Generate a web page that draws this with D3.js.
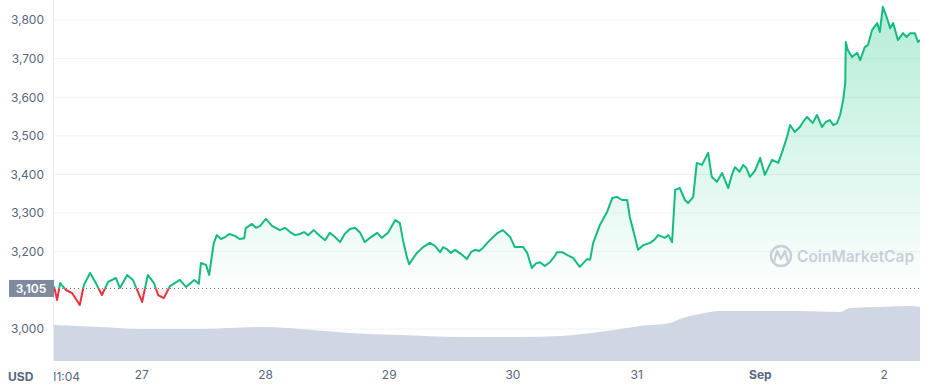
<!DOCTYPE html>
<html>
<head>
<meta charset="utf-8">
<script src="https://cdn.jsdelivr.net/npm/d3@7"></script>
<style>
  body { margin: 0; background: #fff; }
  svg { font-family: Inter, "Noto Sans", sans-serif; display: block; }
</style>
</head>
<body>
<svg id="chart"></svg>
<script>
// ETH / USD, 7 days, start Aug 26 07:04
const start = new Date(2021, 7, 26, 7, 4)
const basePrice = 3105

// [hours from start, price]
const pricePoints = [
  [0, 3111], [0.6, 3075], [1.2, 3119], [2.3, 3101], [3.5, 3093], [5.0, 3062], [5.8, 3114],
  [7.0, 3145], [8.0, 3122], [9.3, 3088], [10.5, 3122], [12.0, 3132], [12.8, 3106], [14.2, 3140],
  [15.3, 3127], [17.1, 3070], [18.2, 3140], [19.4, 3119], [20.2, 3088], [21.3, 3080], [22.5, 3111],
  [24.4, 3127], [25.6, 3109], [27.2, 3127], [28.1, 3117], [28.5, 3171], [29.5, 3166], [30.1, 3140],
  [31.0, 3223], [31.6, 3243], [32.4, 3233], [33.2, 3238], [34.0, 3246], [35.1, 3241], [36.0, 3233],
  [36.9, 3235], [37.2, 3261], [38.4, 3272], [39.2, 3262], [40.0, 3267], [41.1, 3285], [42.3, 3267],
  [43.8, 3256], [44.8, 3262], [45.8, 3251], [46.8, 3243], [47.7, 3246], [48.5, 3251], [49.3, 3243],
  [50.4, 3256], [51.6, 3241], [52.6, 3230], [53.5, 3249], [54.5, 3238], [55.5, 3225], [56.4, 3246],
  [57.4, 3259], [58.4, 3262], [59.4, 3249], [60.3, 3225], [61.5, 3238], [62.7, 3249], [63.6, 3236],
  [64.8, 3249], [66.2, 3282], [67.1, 3274], [67.7, 3230], [68.5, 3184], [68.9, 3168], [70.4, 3197],
  [71.6, 3212], [72.9, 3223], [73.9, 3215], [74.9, 3199], [75.5, 3212], [76.2, 3207], [77.0, 3197],
  [77.8, 3205], [79.0, 3194], [80.1, 3181], [80.9, 3199], [81.7, 3205], [82.5, 3202], [83.2, 3210],
  [84.2, 3225], [85.2, 3238], [86.1, 3249], [87.1, 3256], [88.5, 3238], [89.4, 3212], [91.0, 3212],
  [91.8, 3197], [92.7, 3158], [93.5, 3170], [94.3, 3173], [95.2, 3163], [96.2, 3173], [97.0, 3186],
  [97.6, 3199], [98.6, 3199], [99.5, 3192], [100.7, 3184], [102.0, 3161], [103.4, 3181], [104.0, 3179],
  [104.6, 3223], [105.9, 3269], [107.3, 3303], [108.3, 3339], [109.2, 3342], [110.2, 3334], [111.2, 3334],
  [111.7, 3290], [112.7, 3238], [113.3, 3205], [114.3, 3217], [115.6, 3223], [116.4, 3230], [117.2, 3243],
  [118.5, 3236], [119.2, 3243], [119.9, 3225], [120.5, 3360], [121.4, 3365], [122.4, 3334], [123.0, 3326],
  [124.0, 3342], [124.7, 3430], [125.7, 3425], [126.9, 3456], [127.6, 3394], [128.6, 3381], [129.6, 3404],
  [130.8, 3365], [131.5, 3399], [132.1, 3419], [133.0, 3407], [133.7, 3425], [134.3, 3417], [135.0, 3394],
  [136.0, 3410], [137.0, 3443], [137.9, 3399], [139.3, 3438], [140.5, 3430], [141.2, 3456], [142.2, 3497],
  [142.8, 3528], [143.7, 3510], [144.7, 3523], [145.4, 3538], [146.1, 3549], [147.2, 3533], [148.0, 3554],
  [149.0, 3523], [149.7, 3536], [150.5, 3541], [151.2, 3528], [151.9, 3533], [152.5, 3554], [153.1, 3593],
  [153.5, 3637], [153.6, 3743], [154.0, 3722], [154.8, 3704], [155.8, 3715], [156.4, 3696], [157.3, 3730],
  [157.9, 3735], [158.7, 3774], [159.7, 3792], [160.2, 3769], [160.8, 3834], [161.6, 3805], [162.2, 3779],
  [162.8, 3792], [163.7, 3748], [164.7, 3766], [165.4, 3756], [166.1, 3766], [167.0, 3766], [167.6, 3743],
  [168, 3748]
]

// [hours from start, volume in billions USD]
const volumePoints = [
  [0, 18], [8.9, 17], [16.7, 16], [28.3, 16], [41.1, 17], [47.7, 16], [57.4, 14], [67.1, 13],
  [78.8, 12], [90.4, 12], [98.2, 12.5], [105.9, 14.5], [113.7, 17.5], [119.5, 19], [121.4, 21],
  [125.3, 23.5], [129.2, 25], [136.9, 25], [144.7, 25], [152.5, 24.5], [154.4, 26.5], [160.2, 27],
  [166.1, 27.5], [168, 27]
]

const yTicks = [3000, 3200, 3300, 3400, 3500, 3600, 3700, 3800]
const firstLabel = '11:04'

const width = 925, height = 388
const left = 54, right = 920

const green = '#14bb7e', red = '#e5333f'

const hourToDate = h => new Date(start.getTime() + h * 3600 * 1000)
const prices = pricePoints.map(d => ({ date: hourToDate(d[0]), price: d[1] }))
const volumes = volumePoints.map(d => ({ date: hourToDate(d[0]), vol: d[1] }))

const svg = d3.select('#chart').attr('width', width).attr('height', height)

const x = d3.scaleTime().domain([start, hourToDate(168)]).range([left, right])
const y = d3.scaleLinear().domain([3000, 3800]).range([329, 20])
const yVol = d3.scaleLinear().domain([0, 40]).range([361, 281])

const baseY = y(basePrice)

let defs = svg.append('defs')
let grad = defs.append('linearGradient')
  .attr('id', 'greenFill')
  .attr('gradientUnits', 'userSpaceOnUse')
  .attr('x1', 0).attr('x2', 0)
  .attr('y1', y(3834)).attr('y2', baseY)
grad.append('stop').attr('offset', '0%').attr('stop-color', '#16c784').attr('stop-opacity', 0.32)
grad.append('stop').attr('offset', '100%').attr('stop-color', '#16c784').attr('stop-opacity', 0.01)

defs.append('clipPath').attr('id', 'above')
  .append('rect').attr('x', left).attr('y', 0).attr('width', right - left).attr('height', baseY)
defs.append('clipPath').attr('id', 'below')
  .append('rect').attr('x', left).attr('y', baseY).attr('width', right - left).attr('height', height - baseY)
defs.append('clipPath').attr('id', 'plot')
  .append('rect').attr('x', left).attr('y', 0).attr('width', width - left).attr('height', height)

// grid
svg.append('g')
  .selectAll('line')
  .data(yTicks)
  .enter().append('line')
  .attr('x1', left).attr('x2', right)
  .attr('y1', d => y(d)).attr('y2', d => y(d))
  .attr('stroke', '#eff2f5')
  .attr('stroke-width', 1)

// y axis labels
let yAxis = d3.axisLeft(y).tickValues(yTicks).tickSize(0).tickPadding(0).tickFormat(d3.format(','))
svg.append('g')
  .attr('transform', 'translate(44,0)')
  .call(yAxis)
  .call(g => g.select('.domain').remove())
  .selectAll('text')
  .attr('fill', '#58667e')
  .attr('font-size', 12)
  .attr('font-family', 'Inter, "Noto Sans", sans-serif')

// left vertical line
svg.append('line')
  .attr('x1', left - 0.5).attr('x2', left - 0.5)
  .attr('y1', 0).attr('y2', 361)
  .attr('stroke', '#e6e9ee')

// volume
let volArea = d3.area()
  .x(d => x(d.date))
  .y0(yVol(0))
  .y1(d => yVol(d.vol))
  .curve(d3.curveMonotoneX)
svg.append('path')
  .datum(volumes)
  .attr('d', volArea)
  .attr('fill', '#cfd6e4')

// price fill
let priceArea = d3.area()
  .x(d => x(d.date))
  .y0(baseY)
  .y1(d => y(d.price))
svg.append('path')
  .datum(prices)
  .attr('d', priceArea)
  .attr('fill', 'url(#greenFill)')
  .attr('clip-path', 'url(#above)')
svg.append('path')
  .datum(prices)
  .attr('d', priceArea)
  .attr('fill', red)
  .attr('fill-opacity', 0.08)
  .attr('clip-path', 'url(#below)')

// watermark
let mark = svg.append('g').attr('fill', 'none').attr('stroke', '#c9ced8')
mark.append('circle').attr('cx', 781).attr('cy', 256).attr('r', 10).attr('stroke-width', 2.4)
mark.append('path')
  .attr('d', 'M774,262 L777,251 L781,259 L785,251 L788,262')
  .attr('stroke-width', 2.2)
  .attr('stroke-linejoin', 'round')
  .attr('stroke-linecap', 'round')
svg.append('text')
  .attr('x', 797).attr('y', 262)
  .attr('font-size', 15.5)
  .attr('font-weight', 600)
  .attr('fill', '#c9ced8')
  .text('CoinMarketCap')

// baseline
svg.append('line')
  .attr('x1', left).attr('x2', right)
  .attr('y1', baseY).attr('y2', baseY)
  .attr('stroke', '#58667e')
  .attr('stroke-width', 1)
  .attr('stroke-dasharray', '1,3')

// price line
let line = d3.line().x(d => x(d.date)).y(d => y(d.price))
svg.append('path')
  .datum(prices)
  .attr('d', line)
  .attr('fill', 'none')
  .attr('stroke', green)
  .attr('stroke-width', 2)
  .attr('stroke-linejoin', 'round')
  .attr('clip-path', 'url(#above)')
svg.append('path')
  .datum(prices)
  .attr('d', line)
  .attr('fill', 'none')
  .attr('stroke', red)
  .attr('stroke-width', 2)
  .attr('stroke-linejoin', 'round')
  .attr('clip-path', 'url(#below)')

// base price label
svg.append('rect')
  .attr('x', 9).attr('y', baseY - 8.5)
  .attr('width', left - 9).attr('height', 17)
  .attr('fill', '#808a9d')
svg.append('text')
  .attr('x', 31).attr('y', baseY + 4.5)
  .attr('text-anchor', 'middle')
  .attr('font-size', 12)
  .attr('font-weight', 600)
  .attr('fill', '#fff')
  .text(d3.format(',')(basePrice))

// x axis
let days = d3.timeDay.range(hourToDate(1), hourToDate(168))
let xAxis = d3.axisBottom(x)
  .tickValues(days)
  .tickSize(0)
  .tickPadding(0)
  .tickFormat(d => d.getDate() === 1 ? d3.timeFormat('%b')(d) : d.getDate())
svg.append('g')
  .attr('transform', 'translate(0,370)')
  .call(xAxis)
  .call(g => g.select('.domain').remove())
  .selectAll('text')
  .attr('fill', '#58667e')
  .attr('font-size', 12)
  .attr('font-family', 'Inter, "Noto Sans", sans-serif')
  .attr('font-weight', d => d.getDate() === 1 ? 700 : 400)

svg.append('text')
  .attr('x', 51.5).attr('y', 381)
  .attr('font-size', 12)
  .attr('fill', '#58667e')
  .attr('clip-path', 'url(#plot)')
  .text(firstLabel)

svg.append('text')
  .attr('x', 8).attr('y', 381)
  .attr('font-size', 12)
  .attr('font-weight', 700)
  .attr('fill', '#58667e')
  .text('USD')
</script>
</body>
</html>
